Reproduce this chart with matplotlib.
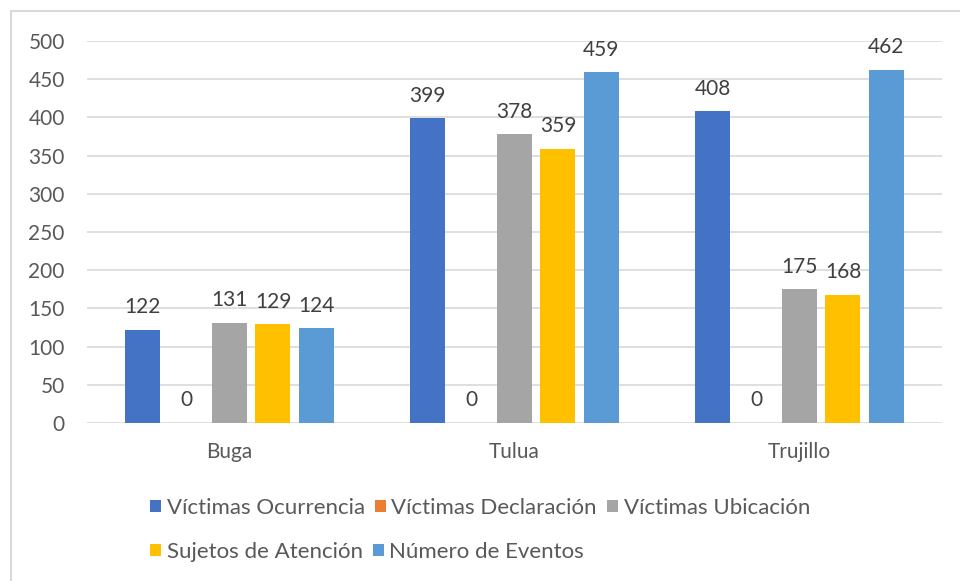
import numpy as np
import matplotlib.pyplot as plt
from matplotlib.patches import Patch, Rectangle

# datos por municipio
municipios = ["Buga", "Tulua", "Trujillo"]
series = ["Víctimas Ocurrencia", "Víctimas Declaración", "Víctimas Ubicación",
          "Sujetos de Atención", "Número de Eventos"]
ocurrencia = [122, 399, 408]
declaracion = [0, 0, 0]
ubicacion = [131, 378, 175]
sujetos = [129, 359, 168]
eventos = [124, 459, 462]
colores = ["#4472C4", "#ED7D31", "#A5A5A5", "#FFC000", "#5B9BD5"]

valores = [ocurrencia, declaracion, ubicacion, sujetos, eventos]
texto = "#595959"
fs = 15
plt.rcParams["font.family"] = ["Lato", "DejaVu Sans"]

fig = plt.figure(figsize=(9.6, 5.81), dpi=100)
ax = fig.add_axes([0.0906, 0.2719, 0.8906, 0.6575])

x = np.arange(len(municipios))
paso = 0.1526
ancho = 0.123
for i, (nombre, vals, c) in enumerate(zip(series, valores, colores)):
    pos = x + (i - 2) * paso
    ax.bar(pos, vals, ancho, color=c, label=nombre, zorder=3)
    for xb, v in zip(pos, vals):
        ax.annotate(str(v), (xb, v), xytext=(0, 12), textcoords="offset points",
                    ha="center", va="baseline", fontsize=fs, color="#404040")

ax.set_xlim(-0.5, 2.5)
ax.set_ylim(0, 500)
ax.set_yticks(range(0, 501, 50))
ax.set_xticks(x)
ax.set_xticklabels(municipios)
ax.tick_params(axis="both", length=0, labelsize=fs, labelcolor=texto)
ax.tick_params(axis="x", pad=14)
ax.tick_params(axis="y", pad=16)
ax.grid(axis="y", color="#D9D9D9", linewidth=1.2, zorder=0)
for s in ax.spines.values():
    s.set_visible(False)

# leyenda en dos filas
handles = [Patch(facecolor=c) for c in colores]
kw = dict(frameon=False, fontsize=16, labelcolor=texto, handlelength=0.5,
          handleheight=0.5, handletextpad=0.25, columnspacing=0.45, borderpad=0,
          borderaxespad=0)
leg1 = fig.legend(handles[:3], series[:3], ncol=3, loc="center left",
                  bbox_to_anchor=(150 / 960, 1 - 508 / 581), **kw)
leg2 = fig.legend(handles[3:], series[3:], ncol=2, loc="center left",
                  bbox_to_anchor=(150 / 960, 1 - 552 / 581), **kw)

# borde del área del gráfico
fig.patches.append(Rectangle((11 / 960, -0.1), 1.2, 1 - 11 / 581 + 0.1,
                             transform=fig.transFigure, fill=False,
                             edgecolor="#D9D9D9", linewidth=1.5))

fig.savefig("out.png", dpi=100)
